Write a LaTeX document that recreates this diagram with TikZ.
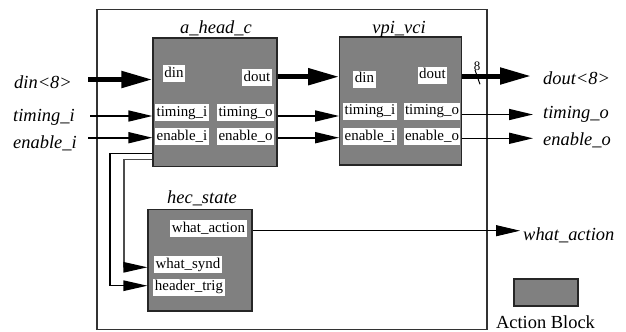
\documentclass[tikz,border=0pt]{standalone}
\usepackage{fontspec}
\setmainfont{Liberation Serif}
\usetikzlibrary{arrows.meta}
\definecolor{blkgray}{RGB}{128,128,128}
\begin{document}
\begin{tikzpicture}[x=1bp,y=-1bp,
  blockbox/.style={draw=black!85, line width=1.2bp, fill=blkgray, inner sep=0pt},
  port/.style={fill=white, inner xsep=1.5bp, inner ysep=1.6bp, font=\fontsize{15}{15}\selectfont, text height=10.4bp, text depth=3.4bp},
  sig/.style={font=\fontsize{18.5}{20}\selectfont\itshape, inner sep=0pt, anchor=base west},
  title/.style={font=\fontsize{18.5}{20}\selectfont\itshape, inner sep=0pt, anchor=base},
  thinarrow/.style={line width=1.6bp, -{Triangle[length=24bp,width=11bp]}},
  thickarrow/.style={line width=5bp, -{Triangle[length=31bp,width=16bp]}},
  fbarrow/.style={line width=1.2bp, -{Triangle[length=24bp,width=10.5bp,color=black]}}
]
\useasboundingbox (0,0) rectangle (626,331);

% frame
\node[draw=black!80, line width=1.2bp, inner sep=0pt, minimum width=390bp, minimum height=320bp] (frame) at (292,169.5) {};

% blocks
\node[blockbox, minimum width=124bp, minimum height=128.5bp] (ahc) at (215,102.25) {};
\node[blockbox, minimum width=122bp, minimum height=128bp] (vpi) at (400.75,101) {};
\node[blockbox, minimum width=104bp, minimum height=101.7bp] (hec) at (200,260.2) {};
\node[blockbox, minimum width=64bp, minimum height=27bp] (legend) at (546,292.5) {};

% titles
\node[title] (tahc) at (216,33) {a\_head\_c};
\node[title] (tvpi) at (399,33) {vpi\_vci};
\node[title] (thec) at (202,203.3) {hec\_state};
\node[font=\fontsize{18.5}{20}\selectfont, inner sep=0pt, anchor=base] (tleg) at (545.5,328.3) {Action Block};

% ports a_head_c
\node[port] (a1) at (174,73.5) {din};
\node[port] (a2) at (257,77.5) {dout};
\node[port] (a3) at (182,112.5) {timing\_i};
\node[port] (a4) at (245.5,112.5) {timing\_o};
\node[port] (a5) at (182,136.5) {enable\_i};
\node[port] (a6) at (245.5,136.5) {enable\_o};
% ports vpi_vci
\node[port] (v1) at (364.5,79) {din};
\node[port] (v2) at (432.5,75) {dout};
\node[port] (v3) at (370,111) {timing\_i};
\node[port] (v4) at (432,111) {timing\_o};
\node[port] (v5) at (370,136.5) {enable\_i};
\node[port] (v6) at (432,136.5) {enable\_o};
% ports hec_state
\node[port] (h1) at (208.5,228.5) {what\_action};
\node[port] (h2) at (188,264.5) {what\_synd};
\node[port] (h3) at (189,287) {header\_trig};

% external signal labels
\node[sig] (sdin) at (14,88) {din<8>};
\node[sig] (stimi) at (13,121.7) {timing\_i};
\node[sig] (senai) at (13,148) {enable\_i};
\node[sig] (sdout) at (543,84) {dout<8>};
\node[sig] (stimo) at (543,118.3) {timing\_o};
\node[sig] (senao) at (543,145.7) {enable\_o};
\node[sig] (swa) at (523,240) {what\_action};

% free ends
\coordinate (cdin) at (88,79.5);
\coordinate (ctimi) at (90,116);
\coordinate (cenai) at (88,137.7);
\coordinate (cmid1) at (300,76.7);
\coordinate (cmid2) at (300,116);
\coordinate (cmid3) at (300,137.7);
\coordinate (cdout) at (531,76);
\coordinate (ctimo) at (533,114.5);
\coordinate (cenao) at (533,138.3);
\coordinate (cwa) at (520,230.7);
\coordinate (fbA) at (110,153.3);
\coordinate (fbAe) at (110,285.7);
\coordinate (fbB) at (124,159.3);
\coordinate (fbBe) at (124,267.3);

% inputs
\draw[thickarrow] (cdin) -- (ahc.west |- cdin);
\draw[thinarrow] (ctimi) -- (ahc.west |- ctimi);
\draw[thinarrow] (cenai) -- (ahc.west |- cenai);
% between blocks
\draw[thickarrow] (ahc.east |- cmid1) -- (vpi.west |- cmid1);
\draw[thinarrow] (ahc.east |- cmid2) -- (vpi.west |- cmid2);
\draw[thinarrow] (ahc.east |- cmid3) -- (vpi.west |- cmid3);
% outputs
\draw[thickarrow] (vpi.east |- cdout) -- (cdout);
\draw[thinarrow] (vpi.east |- ctimo) -- (ctimo);
\draw[thinarrow] (vpi.east |- cenao) -- (cenao);
\draw[line width=1bp, -{Triangle[length=24bp,width=11bp]}] (hec.east |- cwa) -- (cwa);

% bus width mark
\coordinate (slA) at (475,70);
\coordinate (slB) at (480,84.3);
\draw[line width=1bp] (slA) -- (slB);
\node[font=\fontsize{13}{13}\selectfont, inner sep=0pt] (bw) at (477,66.5) {8};

% feedback lines
\draw[fbarrow] (ahc.west |- fbA) -- (fbA) -- (fbAe) -- (hec.west |- fbAe);
\draw[fbarrow, draw=black!70] (ahc.west |- fbB) -- (fbB) -- (fbBe) -- (hec.west |- fbBe);
\end{tikzpicture}
\end{document}
